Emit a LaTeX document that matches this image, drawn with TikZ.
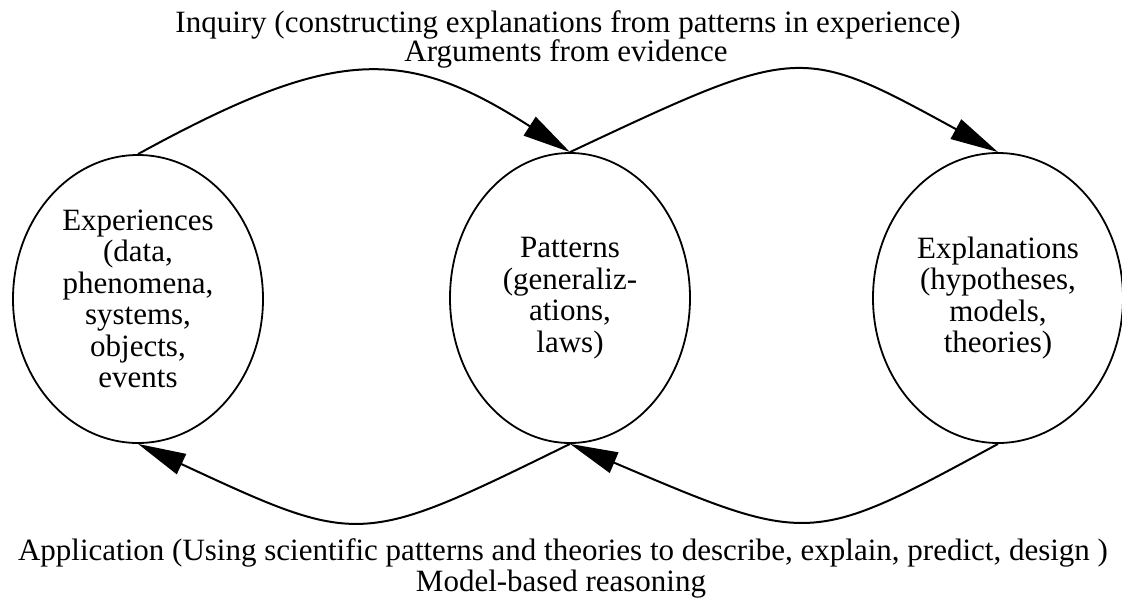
\documentclass[tikz,border=0pt]{standalone}
\usepackage{fontspec}
\setmainfont{Liberation Serif}
\usetikzlibrary{shapes.geometric,arrows.meta}
\begin{document}
\begin{tikzpicture}[x=1pt,y=-1pt,
  bubble/.style={draw, ellipse, line width=1.8pt, inner sep=0pt, align=center, font=\fontsize{31}{31.5}\selectfont},
  caption/.style={anchor=base, inner sep=0pt, font=\fontsize{31}{31}\selectfont},
  flow/.style={line width=2pt, -{Triangle[length=48pt,width=22pt]}}]
\useasboundingbox (0,0) rectangle (1122,611);
\node[bubble, minimum width=250pt, minimum height=288pt] (exp) at (138,299)
  {Experiences\\(data,\\phenomena,\\systems,\\objects,\\events};
\node[bubble, minimum width=240pt, minimum height=290pt] (pat) at (570,298)
  {Patterns\\(generaliz-\\ations,\\laws)};
\node[bubble, minimum width=250pt, minimum height=290pt] (expl) at (998,298)
  {Explanations\\(hypotheses,\\models,\\theories)};
\node[caption] (t1) at (568,32) {Inquiry (constructing explanations from patterns in experience)};
\node[caption] (t2) at (566,61) {Arguments from evidence};
\node[caption] (b1) at (563,560) {Application (Using scientific patterns and theories to describe, explain, predict, design )};
\node[caption] (b2) at (561,591) {Model-based reasoning};
\draw[flow] (exp.north) .. controls (335,46) and (405,46) .. (pat.north);
\draw[flow] (pat.north) .. controls (800,44) .. (expl.north);
\draw[flow] (expl.south) .. controls (810,546) .. (pat.south);
\draw[flow] (pat.south) .. controls (360,547) .. (exp.south);
\end{tikzpicture}
\end{document}
